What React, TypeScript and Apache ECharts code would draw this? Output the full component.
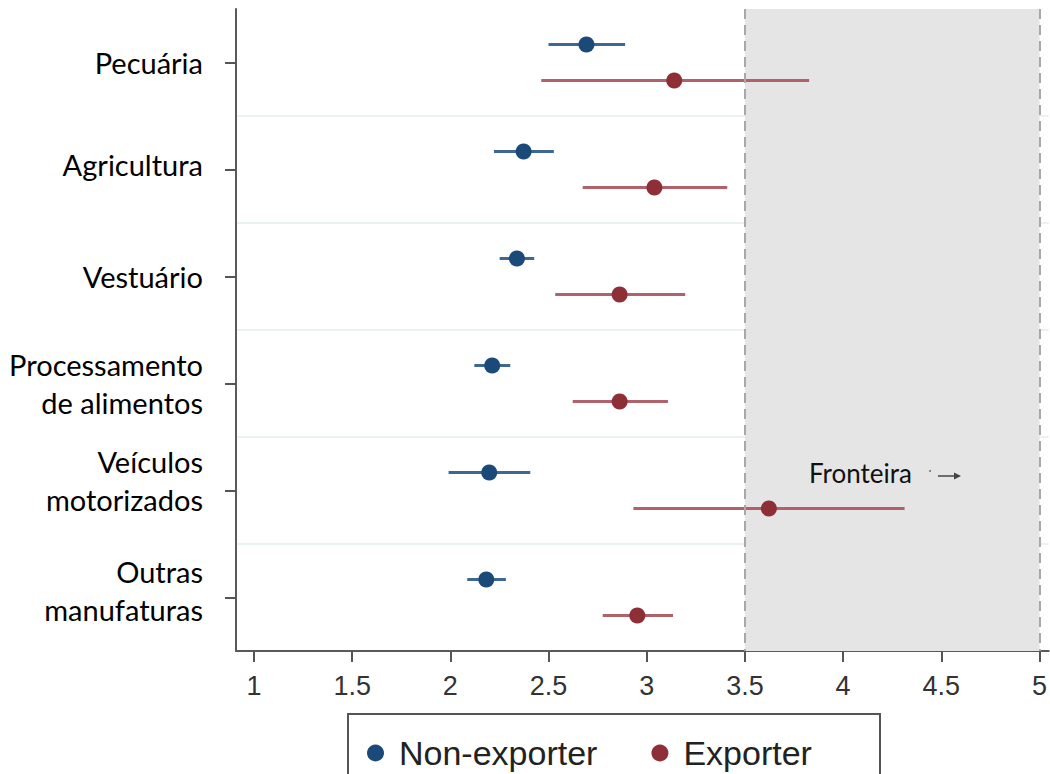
import React, { useEffect, useRef } from "react";
import * as echarts from "echarts";

// Sector categories (top to bottom)
const categories = [
  "Pecuária",
  "Agricultura",
  "Vestuário",
  "Processamento\nde alimentos",
  "Veículos\nmotorizados",
  "Outras\nmanufaturas",
];

// Point estimates and 95% intervals
const nonExporterMean = [2.693, 2.373, 2.339, 2.213, 2.198, 2.183];
const nonExporterLow = [2.5, 2.222, 2.251, 2.122, 1.991, 2.086];
const nonExporterHigh = [2.89, 2.527, 2.427, 2.305, 2.407, 2.283];

const exporterMean = [3.14, 3.039, 2.862, 2.862, 3.622, 2.952];
const exporterLow = [2.463, 2.674, 2.534, 2.623, 2.932, 2.776];
const exporterHigh = [3.827, 3.41, 3.196, 3.108, 4.313, 3.134];

const xTicks = [1, 1.5, 2, 2.5, 3, 3.5, 4, 4.5, 5];
const frontierStart = 3.5;
const frontierEnd = 5;

// Small vertical nudges for the sector labels (px; negative = up)
const labelNudge = [0, -5, 0, 0, -10, -7];

const NAVY = "#1b4a78";
const NAVY_LINE = "#3e6891";
const MAROON = "#8e2f38";
const MAROON_LINE = "#b0616a";

function makeRenderer(offsetFrac: number, dotColor: string, lineColor: string) {
  return (params: any, api: any) => {
    const cat = api.value(3);
    const band = api.size([0, 1])[1];
    const dy = band * offsetFrac;
    const pLo = api.coord([api.value(0), cat]);
    const pHi = api.coord([api.value(1), cat]);
    const pMid = api.coord([api.value(2), cat]);
    const y = pMid[1] + dy;
    return {
      type: "group",
      children: [
        {
          type: "line",
          shape: { x1: pLo[0], y1: y, x2: pHi[0], y2: y },
          style: { stroke: lineColor, lineWidth: 3 },
        },
        {
          type: "circle",
          shape: { cx: pMid[0], cy: y, r: 8 },
          style: { fill: dotColor },
        },
      ],
    };
  };
}

function formatLabel(value: string, index: number) {
  const lines = value.split("\n").map((l) => `{t|${l}}`);
  const n = labelNudge[index] || 0;
  if (n > 0) return [`{s${2 * n}| }`, ...lines].join("\n");
  if (n < 0) return [...lines, `{s${-2 * n}| }`].join("\n");
  return lines.join("\n");
}

const spacerRich: Record<string, any> = {};
for (const n of labelNudge) {
  const h = Math.abs(n) * 2;
  if (h > 0) spacerRich["s" + h] = { fontSize: 2, lineHeight: h, height: h };
}

export default function App() {
  const ref = useRef<HTMLDivElement>(null);

  useEffect(() => {
    if (!ref.current) return;
    const chart = echarts.init(ref.current, undefined, { renderer: "svg" });

    const neData = categories.map((_, i) => [
      nonExporterLow[i],
      nonExporterHigh[i],
      nonExporterMean[i],
      i,
    ]);
    const exData = categories.map((_, i) => [
      exporterLow[i],
      exporterHigh[i],
      exporterMean[i],
      i,
    ]);

    chart.setOption({
      animation: false,
      backgroundColor: "#ffffff",
      grid: { left: 236, right: 0, top: 9, bottom: 123, containLabel: false },
      xAxis: {
        type: "value",
        min: 0.9085,
        max: 5.047,
        axisLine: { show: true, lineStyle: { color: "#5a5a5a", width: 2 } },
        axisTick: {
          show: true,
          length: 11,
          customValues: xTicks,
          lineStyle: { color: "#555", width: 2 },
        },
        axisLabel: {
          customValues: xTicks,
          margin: 21,
          fontFamily: "Liberation Sans, Arial, sans-serif",
          fontSize: 27,
          color: "#333",
        },
        splitLine: { show: false },
      },
      yAxis: {
        type: "category",
        data: categories,
        inverse: true,
        boundaryGap: true,
        axisLine: { show: true, lineStyle: { color: "#5a5a5a", width: 2 } },
        axisTick: {
          show: true,
          length: 11,
          alignWithLabel: true,
          lineStyle: { color: "#555", width: 2 },
        },
        axisLabel: {
          margin: 33,
          align: "right",
          formatter: formatLabel,
          rich: {
            t: {
              fontFamily: "Lato, sans-serif",
              fontSize: 29,
              lineHeight: 38,
              color: "#000",
              align: "right",
            },
            ...spacerRich,
          },
        },
        splitLine: {
          show: true,
          showMinLine: false,
          showMaxLine: false,
          lineStyle: { color: "#ebf2f2", width: 2 },
        },
      },
      legend: {
        show: true,
        left: 362,
        top: 731,
        icon: "circle",
        itemWidth: 17,
        itemHeight: 17,
        itemGap: 54,
        data: ["Non-exporter", "Exporter"],
        textStyle: {
          fontFamily: "Liberation Sans, Arial, sans-serif",
          fontSize: 34,
          color: "#222",
          padding: [0, 0, 0, 10],
        },
      },
      graphic: [
        {
          type: "rect",
          shape: { x: 348, y: 714, width: 532, height: 80 },
          style: { fill: "none", stroke: "#555", lineWidth: 2 },
          z: 10,
        },
        {
          type: "text",
          x: 809,
          y: 473,
          style: {
            text: "Fronteira",
            fontFamily: "Lato, sans-serif",
            fontSize: 26,
            fill: "#111",
            verticalAlign: "middle",
          },
          z: 10,
        },
        {
          type: "circle",
          shape: { cx: 930, cy: 471, r: 1 },
          style: { fill: "#777" },
          z: 10,
        },
        {
          type: "line",
          shape: { x1: 938, y1: 476, x2: 956, y2: 476 },
          style: { stroke: "#444", lineWidth: 1.5 },
          z: 10,
        },
        {
          type: "polygon",
          shape: { points: [[961, 476], [954, 472.5], [954, 479.5]] },
          style: { fill: "#444" },
          z: 10,
        },
      ],
      series: [
        {
          name: "frontier",
          type: "line",
          data: [],
          z: 1,
          silent: true,
          markArea: {
            silent: true,
            itemStyle: { color: "#e5e5e5" },
            data: [[{ xAxis: frontierStart }, { xAxis: frontierEnd }]],
          },
          markLine: {
            silent: true,
            symbol: "none",
            label: { show: false },
            lineStyle: { color: "#a8a8a8", width: 2, type: [10, 6] },
            data: [{ xAxis: frontierStart }, { xAxis: frontierEnd }],
          },
        },
        {
          name: "Non-exporter",
          type: "custom",
          z: 3,
          itemStyle: { color: NAVY },
          renderItem: makeRenderer(-0.168, NAVY, NAVY_LINE),
          encode: { x: [0, 1, 2], y: 3 },
          data: neData,
        },
        {
          name: "Exporter",
          type: "custom",
          z: 3,
          itemStyle: { color: MAROON },
          renderItem: makeRenderer(0.168, MAROON, MAROON_LINE),
          encode: { x: [0, 1, 2], y: 3 },
          data: exData,
        },
      ],
    });

    return () => chart.dispose();
  }, []);

  return (
    <div
      ref={ref}
      style={{ position: "absolute", left: 0, top: 0, width: 1050, height: 774 }}
    />
  );
}
